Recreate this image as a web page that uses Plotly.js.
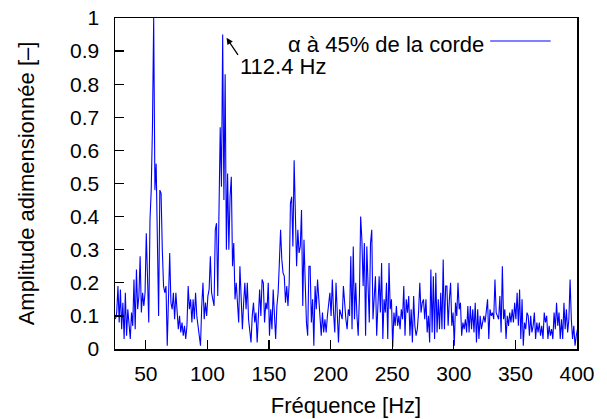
<!DOCTYPE html>
<html>
<head>
<meta charset="utf-8">
<script src="https://cdn.plot.ly/plotly-3.0.1.min.js"></script>
<style>html,body{margin:0;padding:0;background:#fff;}#chart{width:607px;height:419px;}</style>
</head>
<body>
<div id="chart"></div>
<script>
// Frequency axis: uniform spectral bins starting at 25.4 Hz, 1 Hz apart
const freqStart = 25.4;
const freqStep = 1;

// Dimensionless amplitude, one value per bin (25.4 Hz ... 400.4 Hz)
const amplitude = [
  0.09, 0.11, 0.19, 0.08, 0.18, 0.06, 0.14, 0.03, 0.17, 0.04,
  0.12, 0.07, 0.03, 0.11, 0.07, 0.21, 0.06, 0.24, 0.12, 0.16,
  0.28, 0.11, 0.17, 0.13, 0.17, 0.35, 0.23, 0.08, 0.39, 0.48,
  0.67, 1.00, 0.48, 0.56, 0.33, 0.10, 0.48, 0.47, 0.30, 0.19,
  0.17, 0.19, 0.01, 0.17, 0.29, 0.14, 0.12, 0.17, 0.09, 0.17,
  0.10, 0.06, 0.10, 0.05, 0.08, 0.04, 0.07, 0.03, 0.07, 0.19,
  0.12, 0.15, 0.08, 0.15, 0.09, 0.17, 0.10, 0.07, 0.04, 0.01,
  0.13, 0.20, 0.09, 0.14, 0.10, 0.16, 0.18, 0.28, 0.17, 0.15,
  0.13, 0.36, 0.38, 0.16, 0.50, 0.67, 0.49, 0.95, 0.45, 0.83,
  0.30, 0.53, 0.30, 0.46, 0.52, 0.25, 0.32, 0.15, 0.20, 0.12,
  0.08, 0.25, 0.16, 0.06, 0.14, 0.20, 0.12, 0.20, 0.09, 0.04,
  0.02, 0.10, 0.14, 0.08, 0.11, 0.02, 0.12, 0.18, 0.10, 0.21,
  0.20, 0.08, 0.14, 0.12, 0.20, 0.04, 0.12, 0.06, 0.18, 0.08,
  0.03, 0.13, 0.17, 0.26, 0.36, 0.27, 0.23, 0.22, 0.14, 0.19,
  0.13, 0.20, 0.44, 0.46, 0.31, 0.57, 0.36, 0.25, 0.36, 0.29,
  0.31, 0.42, 0.13, 0.33, 0.20, 0.08, 0.04, 0.25, 0.25, 0.08,
  0.15, 0.01, 0.19, 0.12, 0.21, 0.16, 0.08, 0.04, 0.11, 0.05,
  0.09, 0.05, 0.10, 0.13, 0.17, 0.10, 0.21, 0.11, 0.05, 0.20,
  0.08, 0.02, 0.12, 0.10, 0.09, 0.19, 0.12, 0.09, 0.06, 0.12,
  0.10, 0.28, 0.06, 0.31, 0.09, 0.20, 0.10, 0.04, 0.16, 0.40,
  0.33, 0.19, 0.32, 0.04, 0.31, 0.22, 0.08, 0.32, 0.36, 0.09,
  0.16, 0.22, 0.04, 0.15, 0.22, 0.11, 0.26, 0.03, 0.15, 0.11,
  0.20, 0.03, 0.26, 0.12, 0.15, 0.005, 0.11, 0.07, 0.13, 0.07,
  0.10, 0.06, 0.12, 0.09, 0.19, 0.04, 0.15, 0.11, 0.16, 0.04,
  0.12, 0.02, 0.16, 0.07, 0.04, 0.06, 0.11, 0.20, 0.11, 0.14,
  0.15, 0.09, 0.15, 0.05, 0.10, 0.02, 0.24, 0.05, 0.22, 0.03,
  0.23, 0.05, 0.15, 0.06, 0.17, 0.06, 0.27, 0.06, 0.19, 0.19,
  0.07, 0.15, 0.20, 0.07, 0.11, 0.01, 0.14, 0.10, 0.20, 0.12,
  0.14, 0.04, 0.08, 0.06, 0.09, 0.05, 0.13, 0.05, 0.13, 0.06,
  0.12, 0.05, 0.14, 0.02, 0.12, 0.03, 0.10, 0.06, 0.08, 0.10,
  0.08, 0.12, 0.15, 0.03, 0.12, 0.10, 0.11, 0.09, 0.21, 0.11,
  0.10, 0.09, 0.16, 0.05, 0.25, 0.09, 0.12, 0.03, 0.10, 0.07,
  0.11, 0.08, 0.12, 0.08, 0.14, 0.09, 0.17, 0.07, 0.18, 0.03,
  0.15, 0.01, 0.08, 0.06, 0.11, 0.10, 0.04, 0.10, 0.05, 0.07,
  0.11, 0.03, 0.08, 0.05, 0.08, 0.04, 0.07, 0.03, 0.11, 0.08,
  0.10, 0.03, 0.07, 0.04, 0.06, 0.03, 0.11, 0.06, 0.14, 0.07,
  0.11, 0.03, 0.09, 0.03, 0.14, 0.06, 0.12, 0.05, 0.09, 0.21,
  0.09, 0.03, 0.07, 0.01, 0.04, 0.06
];

const frequency = amplitude.map((_, i) => freqStart + i * freqStep);

const seriesName = "α à 45% de la corde";
const peakLabel = "112.4 Hz";
const peakFreq = 112.4;
const peakAmp = 0.95;
const xTitle = "Fréquence [Hz]";
const yTitle = "Amplitude adimensionnée [–]";
const xTickVals = [50, 100, 150, 200, 250, 300, 350, 400];
const yTickVals = [0, 0.1, 0.2, 0.3, 0.4, 0.5, 0.6, 0.7, 0.8, 0.9, 1];

const FONT = "Liberation Sans, Arial, Helvetica, sans-serif";
const FS = 22;

const trace = {
  x: frequency,
  y: amplitude,
  type: "scatter",
  mode: "lines",
  name: seriesName,
  line: {color: "#0000ff", width: 1.1},
  showlegend: false,
  hoverinfo: "skip"
};

const axisCommon = {
  showgrid: false,
  zeroline: false,
  showline: true,
  mirror: true,
  linecolor: "#000",
  linewidth: 1.5,
  ticks: "inside",
  ticklen: 9,
  tickwidth: 1.3,
  tickcolor: "#000",
  tickfont: {family: FONT, size: 21, color: "#000"}
};

const layout = {
  width: 607,
  height: 419,
  margin: {l: 115, r: 30, t: 18, b: 70},
  paper_bgcolor: "#fff",
  plot_bgcolor: "#fff",
  font: {family: FONT, size: FS, color: "#000"},
  xaxis: Object.assign({}, axisCommon, {
    range: [25, 400],
    tickvals: xTickVals,
    ticklabelstandoff: 5,
    title: {text: xTitle, font: {family: FONT, size: FS, color: "#000"}, standoff: 14}
  }),
  yaxis: Object.assign({}, axisCommon, {
    range: [0, 1],
    tickvals: yTickVals,
    ticklabelstandoff: 10,
    title: {text: yTitle, font: {family: FONT, size: FS, color: "#000"}, standoff: 29}
  }),
  shapes: [
    {type: "line", xref: "paper", yref: "paper", x0: 0.812, x1: 0.943, y0: 0.9305, y1: 0.9305,
     line: {color: "#0000ff", width: 1}}
  ],
  annotations: [
    {xref: "paper", yref: "paper", x: 0.802, y: 0.921, xanchor: "right", yanchor: "middle",
     text: seriesName, showarrow: false, font: {family: FONT, size: FS, color: "#000"}},
    {xref: "x", yref: "y", x: 124.8, y: 0.852, xanchor: "left", yanchor: "middle",
     text: peakLabel, showarrow: false, font: {family: FONT, size: FS, color: "#000"}},
    {xref: "x", yref: "y", x: peakFreq + 3.1, y: peakAmp - 0.01, text: "", showarrow: true,
     ax: 12.5, ay: 18.5, arrowhead: 2, arrowsize: 1, arrowwidth: 1.3, arrowcolor: "#000", standoff: 0}
  ]
};

Plotly.newPlot("chart", [trace], layout, {staticPlot: true, displayModeBar: false});
</script>
</body>
</html>
